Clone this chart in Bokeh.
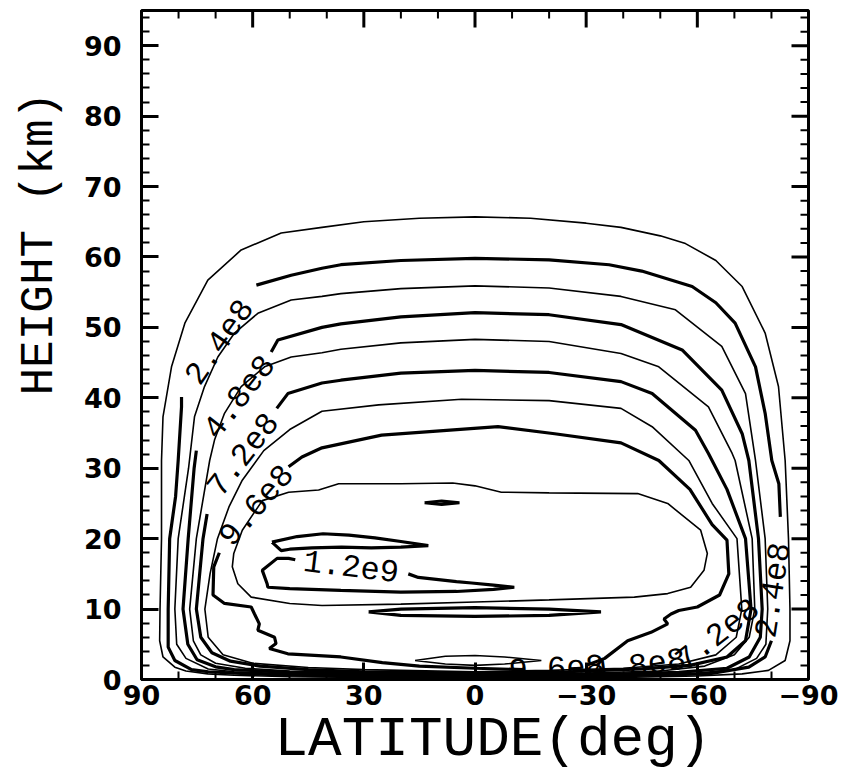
import math
from bokeh.plotting import figure
from bokeh.models import Range1d, FixedTicker, Title
from bokeh.embed import file_html
from bokeh.resources import INLINE
from bokeh.core.properties import value

nan = float("nan")

# ---------------- data (latitude in deg, height in km) ----------------
lat_ticks = [90, 60, 30, 0, -30, -60, -90]
lat_tick_labels = ["90", "60", "30", "0", "\u221230", "\u221260", "\u221290"]
lat_minor = [80, 70, 50, 40, 20, 10, -10, -20, -40, -50, -70, -80]
h_ticks = [0, 10, 20, 30, 40, 50, 60, 70, 80, 90]
h_minor = [2, 4, 6, 8, 12, 14, 16, 18, 22, 24, 26, 28, 32, 34, 36, 38, 42, 44, 46, 48,
           52, 54, 56, 58, 62, 64, 66, 68, 72, 74, 76, 78, 82, 84, 86, 88, 92, 94]
x_title = "LATITUDE(deg)"
y_title = "HEIGHT (km)"

# contour 1.2e8 (thin)
lat_120 = [0, 30, 50, 65, 72.1, 78, 81, 84.2, 85.1, 85.0, 84.6, 84.6, 84.2, 81.9, 78.3, 72.1, 63.1, 52.3, 41.3, 30,
           15, 0, -15, -30, -39.4, -50, -56.8, -65, -72.1, -78.3, -81.9, -83.7, -84.6, -85, -85, -83.7, -79.2, -72.1,
           -60, -40, -20, 0]
h_120 = [0.25, 0.3, 0.4, 0.6, 0.8, 1.2, 1.75, 3.2, 5.5, 10, 20, 31.1, 37.3, 44.4, 50.6, 56.7, 61.0, 63.4, 64.2, 65.0,
         65.5, 65.7, 65.5, 64.8, 64.2, 63.0, 61.9, 59.5, 55.8, 49.2, 41.6, 31.1, 20, 10, 5.5, 2.7, 1.3, 0.8,
         0.5, 0.3, 0.25, 0.25]
# contour 2.4e8 (thick, labelled)
lat_240 = [0, 30, 50, 65, 72, 76.5, 81, 82.8, 82.8, 82.4, 80.8, 80.1, 79.2, 79.2, nan, 59.0, 49.6, 41.3, 36.2, 20,
           0, -20, -36.2, -45, -58.6, -65, -70.2, -75.7, -78.3, -80.1, -82.0, -82.4, nan, -80.0, -78.3, -73.9, -63,
           -40, -20, 0]
h_240 = [0.35, 0.45, 0.6, 0.9, 1.1, 1.4, 2.7, 4.6, 10, 20, 26, 31.1, 38.7, 40.1, nan, 56.0, 57.4, 58.4, 58.9, 59.5,
         59.8, 59.6, 58.9, 58.0, 55.8, 53.5, 50.6, 44.4, 37.8, 31.1, 27.8, 23.1, nan, 5.5, 3.2, 1.75, 0.8,
         0.55, 0.45, 0.35]
# contour 3.6e8 (thin)
lat_360 = [0, 30, 50, 65, 72, 78, 80.5, 81.0, 80.1, 77.3, 75.7, 73.0, 69.4, 64.9, 58.6, 49.6, 41.3, 36.2, 20, 0,
           -20, -39.4, -54.1, -66.6, -73.0, -75.7, -78.3, -79.0, -78.5, -76, -70, -60, -40, -20, 0]
h_360 = [0.45, 0.6, 0.8, 1.1, 1.5, 3.0, 5.0, 10, 20, 30, 37.3, 41.6, 45.8, 49.2, 52.0, 53.9, 54.4, 54.8, 55.5, 55.9,
         55.6, 54.4, 52.5, 47.3, 40.6, 31.1, 20, 10, 5, 3, 1.4, 0.9, 0.6, 0.5, 0.45]
# contour 4.8e8 (thick, labelled)
lat_480 = [0, 30, 50, 65, 70, 75, 77.5, 78.8, 77.4, 75.8, 75.2, nan, 55.0, 53.2, 41.3, 36.2, 20, 0, -20, -39.4,
           -55.9, -66.6, -72.1, -73.9, -76.5, -77.5, -77, -74, -68, -55, -40, -20, 0]
h_480 = [0.6, 0.8, 1.0, 1.4, 1.8, 2.8, 5, 10, 20, 30, 32.5, nan, 46.5, 48.2, 50.0, 50.5, 51.5, 52.1, 51.8, 50.4,
         46.8, 41.1, 34.9, 31.1, 20, 10, 6, 3.2, 1.6, 1.0, 0.8, 0.7, 0.6]
# contour 6.0e8 (thin)
lat_600 = [0, 30, 50, 62, 70, 74, 76, 77.0, 75.2, 71.6, 70.3, 67.6, 63.1, 56.8, 49.6, 41.3, 36.2, 20, 0, -20,
           -39.4, -49.6, -63.0, -69.4, -70.2, -74.8, -75.5, -74, -70, -62, -50, -30, 0]
h_600 = [0.75, 0.95, 1.2, 1.6, 2.3, 3.5, 5.5, 10, 20, 31.1, 34.0, 37.8, 41.6, 44.4, 45.8, 46.4, 46.9, 47.8, 48.3, 48.0,
         46.3, 44.4, 38.7, 32.1, 31.1, 20, 10, 6, 3.5, 1.9, 1.2, 0.9, 0.75]
# contour 7.2e8 (thick, labelled)
lat_720 = [0, 30, 45, 58, 66, 71, 74, 75.2, 73.4, 72.3, nan, 53.5, 50.5, 41.3, 36.2, 20, 0, -20, -39.4, -47.8,
           -59.5, -63.0, -68, -73, -74.5, -73, -68, -58, -45, -25, 0]
h_720 = [0.9, 1.1, 1.4, 1.9, 2.6, 3.8, 6, 10, 20, 23.5, nan, 38.5, 40.6, 42.1, 42.5, 43.5, 43.9, 43.6, 42.3, 40.6,
         35.4, 32.1, 27, 20, 10, 5.5, 3.2, 2.0, 1.5, 1.1, 0.9]
# contour 8.4e8 (thin)
lat_840 = [0, 30, 45, 60, 68, 72, 72.9, 71.5, 69.5, 66.4, 62.8, 57.0, 50.0, 41.3, 26, 3.6, -20, -39.4, -47.8, -57.7,
           -64, -70.7, -72, -70.5, -65, -55, -40, -20, 0]
h_840 = [1.1, 1.4, 1.7, 2.3, 3.5, 6, 10, 15, 20, 24.5, 28.3, 32.5, 35.5, 38.1, 39.0, 39.8, 39.6, 38.5, 35.9, 31.1,
         25, 20, 10, 6, 3.5, 2.2, 1.6, 1.3, 1.1]
# contour 9.6e8 (thick, labelled)
lat_960 = [0, 15, 25, 36.2, 50.5, 55.5, 53.7, 54.1, 58.6, 58.2, 59.5, 60.4, 67.6, 70.7, 70.5, 69.0, nan, 50.3, 46.7,
           41.3, 25.2, -6.2, -21.5, -39.4, -49.6, -58, -64, -68, -68.5, -66, -60, -55, -52.9, -51, -52, -47.5, -41.2,
           -35, -30, nan, -13, 0]
h_960 = [1.6, 1.9, 2.4, 3.2, 3.65, 4.4, 5.1, 6.0, 7.0, 7.9, 9.3, 10.3, 10.8, 12, 16, 18.0, nan, 30.2, 31.6,
         32.9, 34.7, 35.9, 34.9, 33.6, 31.1, 27, 22, 19.8, 15, 12, 10.3, 9.8, 9.3, 8.6, 7.9, 6.7, 5.5,
         3.0, 2.0, nan, 1.4, 1.6]
# contour 1.08e9 (thin)
lat_1080 = [41.3, 50, 60.4, 64.0, 65.5, 65.1, 62.8, 57.4, 50.3, 42.2, 36.8, 20, 6, 0, -7.1, -20, -43.9, -52, -60.9,
            -62.7, -61.8, -58.2, -52, -43, -20, 0, 20, 41.3]
h_1080 = [10.5, 10.8, 11.7, 13.6, 16, 17.9, 21.2, 25.4, 26.6, 26.9, 27.8, 27.8, 27.9, 27.5, 26.6, 26.5, 26.4, 25.0,
          21.2, 17.9, 15.5, 13.1, 12.2, 11.7, 11.3, 11.0, 10.7, 10.5]
lat_1080b = [16.2, 8, 0, -8, -17.9, -8, 0, 8, 16.2]
h_1080b = [2.7, 3.3, 3.4, 3.2, 2.7, 2.2, 2.0, 2.2, 2.7]
# contour 1.2e9 (thick, labelled)
lat_1200a = [54.8, 48, 41, 34, 27, 20, 12.6, 20, 28, 36, 44, 50, 52.3, 54.8]
h_1200a = [19.5, 20.3, 20.7, 20.5, 20.1, 19.6, 19.0, 18.8, 18.7, 18.8, 18.7, 18.5, 18.3, 19.5]
lat_1200b = [48.5, 50.3, 53.4, 57.4, 56.1, 55.9, 50, 36.2, 20, 5, -5, -10.6, -5, 0.9, 5, 15.3, 18]
h_1200b = [17.0, 17.2, 17.2, 15.5, 13.6, 13.1, 12.9, 12.65, 12.4, 12.5, 12.8, 13.1, 13.4, 13.7, 13.9, 14.5, 15.0]
lat_1200c = [13.6, 9, 4.2, 9, 13.6]
h_1200c = [25.1, 25.35, 25.1, 24.85, 25.1]
lat_1200d = [28.7, 20, 0, -20, -34, -20, 0, 20, 28.7]
h_1200d = [9.6, 10.0, 10.2, 10.0, 9.6, 9.1, 8.95, 9.1, 9.6]

# contour labels
lab_text = ["2.4e8", "4.8e8", "7.2e8", "9.6e8", "1.2e9", "2.4e8", "7.2e8", "9.6e8", "4.8e8"]
lab_lat = [69.2, 63.8, 62.8, 59.2, 33.4, -80.2, -65.3, -22.0, -44.0]
lab_h = [48.0, 40.2, 32.0, 24.8, 16.1, 12.7, 6.5, 1.7, 2.1]
lab_angle = [55, 52, 52, 49, -7, 81, 38, 3, 8]

# ---------------- figure ----------------
p = figure(width=851, height=778, x_range=Range1d(90, -90), y_range=Range1d(0, 95),
           output_backend="svg", toolbar_location=None,
           min_border_left=139, min_border_right=43, min_border_top=10, min_border_bottom=99)
p.grid.visible = False
p.outline_line_color = "black"
p.outline_line_width = 3
p.background_fill_color = "white"
p.border_fill_color = "white"

thin = [(lat_120, h_120), (lat_360, h_360), (lat_600, h_600), (lat_840, h_840),
        (lat_1080, h_1080), (lat_1080b, h_1080b)]
thick = [(lat_240, h_240), (lat_480, h_480), (lat_720, h_720), (lat_960, h_960),
         (lat_1200a, h_1200a), (lat_1200b, h_1200b), (lat_1200c, h_1200c), (lat_1200d, h_1200d)]
for la, hh in thin:
    p.line(la, hh, line_color="black", line_width=1.6)
for la, hh in thick:
    p.line(la, hh, line_color="black", line_width=3.2)

p.text(x=lab_lat, y=lab_h, text=lab_text, angle=lab_angle, angle_units="deg",
       text_align="center", text_baseline="middle", text_color="black",
       text_font=value("Liberation Mono"), text_font_size="32px")

# mirrored inward ticks on the top and right frame edges (clipped to the frame)
y_top = p.y_range.end
x_right = p.x_range.end
p.scatter(x=lat_ticks, y=[y_top] * len(lat_ticks), marker="dash", size=34, angle=90,
          angle_units="deg", line_color="black", line_width=3)
p.scatter(x=lat_minor, y=[y_top] * len(lat_minor), marker="dash", size=16, angle=90,
          angle_units="deg", line_color="black", line_width=2)
p.scatter(x=[x_right] * len(h_ticks), y=h_ticks, marker="dash", size=34,
          line_color="black", line_width=3)
p.scatter(x=[x_right] * len(h_minor), y=h_minor, marker="dash", size=16,
          line_color="black", line_width=2)


def style_axis(ax, ticker):
    ax.ticker = ticker
    ax.axis_line_width = 3
    ax.axis_line_color = "black"
    ax.major_tick_line_width = 3
    ax.minor_tick_line_width = 2
    ax.major_tick_in = 17
    ax.major_tick_out = 0
    ax.minor_tick_in = 8
    ax.minor_tick_out = 0
    ax.major_label_text_font = "DejaVu Sans"
    ax.major_label_text_font_style = "bold"
    ax.major_label_text_font_size = "27px"
    ax.major_label_text_color = "black"


xa = p.below[0]
ya = p.left[0]
style_axis(xa, FixedTicker(ticks=lat_ticks, minor_ticks=lat_minor))
style_axis(ya, FixedTicker(ticks=h_ticks, minor_ticks=h_minor))
xa.major_label_overrides = {t: s for t, s in zip(lat_ticks, lat_tick_labels)}
xa.major_label_standoff = 5
ya.major_label_standoff = 20

# axis titles as side titles so they can sit off-centre like the reference
p.add_layout(Title(text=x_title, align="left", offset=133, vertical_align="top",
                   standoff=0, text_font="Liberation Mono", text_font_size="56px",
                   text_font_style="normal", text_color="black"), "below")
p.add_layout(Title(text=y_title, align="left", offset=284, vertical_align="top",
                   standoff=26, text_font="Liberation Mono", text_font_size="46px",
                   text_font_style="normal", text_color="black"), "left")

open("out.html", "w").write(file_html(p, INLINE))
